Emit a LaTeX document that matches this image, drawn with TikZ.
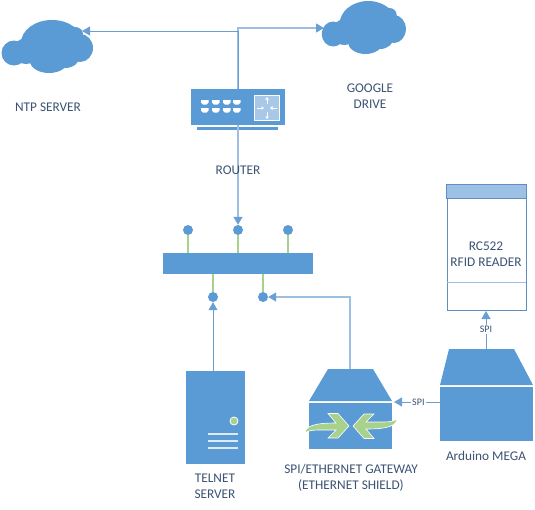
\documentclass[tikz,border=0pt]{standalone}
\usepackage{fontspec}
\setmainfont{Carlito}
\usetikzlibrary{arrows.meta}
\definecolor{iconblue}{HTML}{5B9BD5}
\definecolor{linedark}{HTML}{6A9FD3}
\definecolor{linelight}{HTML}{9DBFE0}
\definecolor{pingreen}{HTML}{A9D18E}
\definecolor{textblue}{HTML}{3B5273}
\definecolor{paleblue}{HTML}{A9C8E8}
\definecolor{rfidedge}{HTML}{5E8FBF}
\tikzset{
    lbl/.style={text=textblue, font=\fontsize{13.3}{16}\selectfont, align=center, inner sep=0pt},
    smalllbl/.style={text=textblue, font=\fontsize{10}{12}\selectfont, fill=white, inner sep=1pt},
    block/.style={fill=iconblue, inner sep=0pt},
    pindot/.style={circle, fill=iconblue, inner sep=0pt, minimum size=10pt},
    pin/.style={pingreen, line width=1.2pt},
    link/.style={linedark, line width=0.9pt, -{Triangle[length=8pt,width=9pt]}},
    linkl/.style={linelight, line width=1.3pt, -{Triangle[length=8pt,width=9pt,color=linedark]}},
    pics/cloudblob/.style={code={
        \fill[iconblue] (4,-4) circle (31 and 23)
            (-34,6) circle (12.5 and 12.5)
            (-21,3) circle (14 and 12)
            (-22,9) circle (11 and 8)
            (1,14) circle (19 and 12)
            (17,9) circle (15 and 12)
            (32,1) circle (13 and 14)
            (27,-13) circle (8 and 7);
    }},
    pics/bentarrow/.style={code={
        \fill[pingreen, draw=white, line width=0.6pt] (-46,7) .. controls (-45,0) and (-37,-3) .. (-15,-3)
            -- (-23,-12.5) -- (-13,-12.5) -- (-2,0) -- (-13,12) -- (-23,12) -- (-15,4)
            -- (-29,4) .. controls (-37,4) and (-42,4) .. (-46,7) -- cycle;
    }},
}
\begin{document}
\begin{tikzpicture}[x=1pt, y=-1pt]
    \useasboundingbox (0,0) rectangle (535,509);

    % clouds
    \pic at (48,47) {cloudblob};
    \pic[xscale=0.92] at (364.5,28) {cloudblob};
    \coordinate (ntp) at (82,31);
    \coordinate (drive) at (324,28);
    \coordinate (bendl) at (238,31);
    \coordinate (bendr) at (238,28);

    % router
    \node[block, minimum width=94pt, minimum height=36pt] (router) at (238,107) {};
    \fill[iconblue] (197,127) rectangle (278,130);
    \foreach \x in {201,212,223,233} {
        \fill[white] (\x,100) -- (\x+7.5,100) -- (\x+7.5,102.5) -- (\x+5.5,104.5) -- (\x+2,104.5) -- (\x,102.5) -- cycle;
        \fill[white] (\x,108) -- (\x+7.5,108) -- (\x+7.5,110.5) -- (\x+5.5,112.5) -- (\x+2,112.5) -- (\x,110.5) -- cycle;
    }
    \node[fill=paleblue, draw=white, line width=1pt, inner sep=0pt, minimum size=25pt] (rsw) at (267,108) {};
    \foreach \a/\b/\c/\d in {267/104/267/97, 267/112/267/119, 257/108/264/108, 277/108/270/108} {
        \draw[white, line width=0.8pt, -{Triangle[length=2.5pt,width=3.5pt]}] (\a,\b) -- (\c,\d);
    }

    % hub
    \node[block, minimum width=150pt, minimum height=21pt] (hub) at (238,263.5) {};
    \node[pindot] (t1) at (188,230) {};
    \node[pindot] (t2) at (238,230) {};
    \node[pindot] (t3) at (288,230) {};
    \node[pindot] (b1) at (213,297) {};
    \node[pindot] (b2) at (263,297) {};
    \foreach \n in {t1,t2,t3} {
        \draw[pin] (\n) -- (\n |- hub.north);
    }
    \foreach \n in {b1,b2} {
        \draw[pin] (\n) -- (\n |- hub.south);
    }

    % telnet server
    \node[block, minimum width=59pt, minimum height=93pt] (telnet) at (215.5,417.5) {};
    \node[circle, fill=pingreen, draw=white, line width=0.8pt, inner sep=0pt, minimum size=8pt] (led) at (234,421) {};
    \foreach \y in {434,441,448} {
        \draw[white!80!iconblue, line width=1.2pt] (208,\y) -- (238,\y);
    }

    % gateway
    \node[block, minimum width=83pt, minimum height=46pt] (gateway) at (350.5,426) {};
    \fill[iconblue] (328,369) -- (373,369) -- (392,401) -- (309,401) -- cycle;
    \pic at (351,426) {bentarrow};
    \pic[rotate=180] at (351,426) {bentarrow};

    % arduino
    \node[block, minimum width=93pt, minimum height=54pt] (arduino) at (486.5,414) {};
    \fill[iconblue] (449,349) -- (514,349) -- (533,385) -- (440,385) -- cycle;

    % rfid reader
    \node[draw=rfidedge, fill=white, line width=1pt, inner sep=0pt, minimum width=79pt, minimum height=125pt] (rfid) at (486.5,247.5) {};
    \fill[paleblue!85!iconblue, draw=rfidedge, line width=1pt] (rfid.north west) rectangle (526,198);
    \draw[linelight, line width=1pt] (447,282) -- (526,282);

    % connections
    \coordinate (telnettop) at (213,371);
    \coordinate (gatetop) at (350,369);
    \coordinate (gatecorner) at (350,297);
    \coordinate (spiout) at (440,402);
    \coordinate (spiin) at (394,402);
    \coordinate (ardtop) at (486,349);
    \coordinate (rfidin) at (486,311);
    \draw[linkl] (router.north -| bendr) -- (bendr) -- (drive);
    \draw[link] (router.north -| bendl) -- (bendl) -- (ntp);
    \draw[linkl] (router.south -| t2) -- (t2);
    \draw[link] (telnettop) -- (b1);
    \draw[linkl] (gatetop) -- (gatecorner) -- (b2);
    \draw[link] (spiout) -- node[smalllbl, pos=0.47] (spigate) {SPI} (spiin);
    \draw[link] (ardtop) -- node[smalllbl, pos=0.52] (spirfid) {SPI} (rfidin);

    % labels
    \node[lbl] (ntplbl) at (48,107) {NTP SERVER};
    \node[lbl] (drivelbl) at (370,96) {GOOGLE\\DRIVE};
    \node[lbl] (routerlbl) at (238,170) {ROUTER};
    \node[lbl] (rfidlbl) at (486,254) {RC522\\RFID READER};
    \node[lbl] (ardlbl) at (486,456) {Arduino MEGA};
    \node[lbl] (gatelbl) at (351,477.5) {SPI/ETHERNET GATEWAY\\(ETHERNET SHIELD)};
    \node[lbl] (telnetlbl) at (215,486) {TELNET\\SERVER};
\end{tikzpicture}
\end{document}
